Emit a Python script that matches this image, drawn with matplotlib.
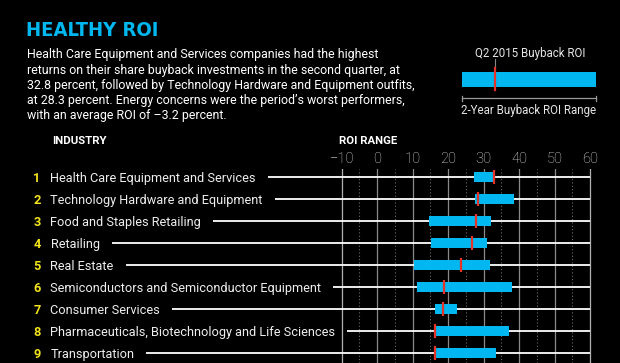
import numpy as np
import matplotlib.pyplot as plt
from matplotlib import font_manager
from matplotlib.transforms import blended_transform_factory

# data
industries = [
    "Health Care Equipment and Services",
    "Technology Hardware and Equipment",
    "Food and Staples Retailing",
    "Retailing",
    "Real Estate",
    "Semiconductors and Semiconductor Equipment",
    "Consumer Services",
    "Pharmaceuticals, Biotechnology and Life Sciences",
    "Transportation",
]
range_low = [27.2, 27.6, 14.7, 15.1, 10.5, 11.1, 16.4, 16.3, 16.2]
range_high = [33.0, 38.7, 32.2, 31.1, 31.7, 37.9, 22.6, 37.2, 33.5]
q2_roi = [32.8, 28.3, 27.9, 26.6, 23.5, 18.8, 18.6, 16.4, 16.2]
tick_values = [-10, 0, 10, 20, 30, 40, 50, 60]

intro = [
    "Health Care Equipment and Services companies had the highest",
    "returns on their share buyback investments in the second quarter, at",
    "32.8 percent, followed by Technology Hardware and Equipment outfits,",
    "at 28.3 percent. Energy concerns were the period\u2019s worst performers,",
    "with an average ROI of \u20133.2 percent.",
]

CYAN = "#00b8ef"
RED = "#e5332a"
YELLOW = "#f3e31b"
FONT = ["Roboto", "DejaVu Sans"]

# try to find a condensed / narrow bold face for the headline
title_font = font_manager.FontProperties(family=["Liberation Sans", "DejaVu Sans"],
                                         weight="bold")
for f in font_manager.fontManager.ttflist:
    bold = f.weight in ("bold", 700, 800, 900, "heavy", "black", "extra bold")
    narrow = ("Narrow" in f.name or "Condensed" in f.name
              or f.stretch in ("condensed", "semi-condensed", "extra-condensed"))
    if bold and narrow and f.style == "normal":
        title_font = font_manager.FontProperties(fname=f.fname)
        break

W, H = 620, 363
fig = plt.figure(figsize=(W / 100, H / 100), dpi=100, facecolor="black")

# overlay in pixel coordinates for the text block and legend key
ov = fig.add_axes([0, 0, 1, 1])
ov.set_xlim(0, W)
ov.set_ylim(H, 0)
ov.axis("off")
ov.patch.set_alpha(0)

title = ov.text(26, 36, "HEALTHY ROI", color=CYAN, fontproperties=title_font,
                va="baseline")
title.set_fontsize(18.5)
for i, line in enumerate(intro):
    ov.text(27, 58.3 + 15.25 * i, line, color="white", fontsize=8.9,
            family=FONT, va="baseline")

# legend key
ov.text(530, 53, "Q2 2015 Buyback ROI", color="#e6e6e6", fontsize=8.3,
        family=FONT, ha="center", va="center")
ov.plot([495, 495], [59, 68], color="#888888", lw=0.8)
ov.add_patch(plt.Rectangle((462, 71.7), 134, 15.6, color=CYAN, lw=0))
ov.plot([495, 495], [68, 90], color=RED, lw=1.6)
ov.plot([462, 596], [98.3, 98.3], color="#999999", lw=0.9)
ov.plot([462, 462], [95.5, 101], color="#999999", lw=0.9)
ov.plot([596, 596], [95.5, 101], color="#999999", lw=0.9)
ov.text(529, 110.5, "2-Year Buyback ROI Range", color="#e6e6e6", fontsize=8.3,
        family=FONT, ha="center", va="center")

ov.text(52, 141.5, "INDUSTRY", color="white", fontsize=8.2, fontweight="bold",
        family=FONT, va="center")
ov.text(339, 141.5, "ROI RANGE", color="white", fontsize=8.2, fontweight="bold",
        family=FONT, va="center")

# chart axes spanning the full width, x in ROI units
px_per_unit = (590 - 341.7) / 70
x_left = -10 - 341.7 / px_per_unit
x_right = 60 + (W - 590) / px_per_unit
row_gap = 22.08
top_px = 169
ax = fig.add_axes([0, 0, 1, (H - top_px) / H])
ax.set_xlim(x_left, x_right)
ax.set_ylim((H - 176.7) / row_gap, -(176.7 - top_px) / row_gap)
ax.patch.set_alpha(0)
for s in ax.spines.values():
    s.set_visible(False)

rows = np.arange(len(industries))
for t in tick_values:
    ax.axvline(t, color="#b0b0b0" if t in (-10, 60) else "#8a8a8a", lw=0.9, zorder=1)
for t in np.array(tick_values[:-1]) + 5:
    ax.axvline(t, color="#6a6a6a", lw=0.8, ls=(0, (1, 2)), zorder=1)

ax.xaxis.tick_top()
ax.set_xticks(tick_values)
ax.set_xticklabels([str(t).replace("-", "\u2212") for t in tick_values],
                   family=FONT, fontweight="light")
ax.tick_params(axis="x", length=0, pad=2.5, labelsize=10.5, labelcolor="#dddddd")
ax.set_yticks([])

# row labels and numbers
lbl_tr = blended_transform_factory(ov.transData, ax.transData)
labels = []
for i, name in enumerate(industries):
    ax.text(37, i, str(i + 1), transform=lbl_tr, color=YELLOW, fontsize=9.2,
            fontweight="bold", family=FONT, ha="center", va="center_baseline")
    labels.append(ax.text(50.5, i, name, transform=lbl_tr, color="#eeeeee",
                          fontsize=9.2, family=FONT, va="center_baseline"))

fig.canvas.draw()
renderer = fig.canvas.get_renderer()

# headline: no condensed face here, so trade some height to keep it near the width
tw = title.get_window_extent(renderer).width
if tw > 135:
    title.set_fontsize(18.5 * 133 / tw)

inv = ax.transData.inverted()
for i, t in enumerate(labels):
    bb = t.get_window_extent(renderer)
    x0 = inv.transform((bb.x1 + 12, 0))[0]
    ax.plot([x0, 60], [i, i], color="white", lw=1.3, zorder=2, solid_capstyle="butt")

ax.barh(rows, np.array(range_high) - np.array(range_low), left=range_low,
        height=0.46, color=CYAN, zorder=3)
ax.vlines(q2_roi, rows - 0.31, rows + 0.31, color=RED, lw=1.6, zorder=4)

fig.savefig("out.png", dpi=100, facecolor="black")
